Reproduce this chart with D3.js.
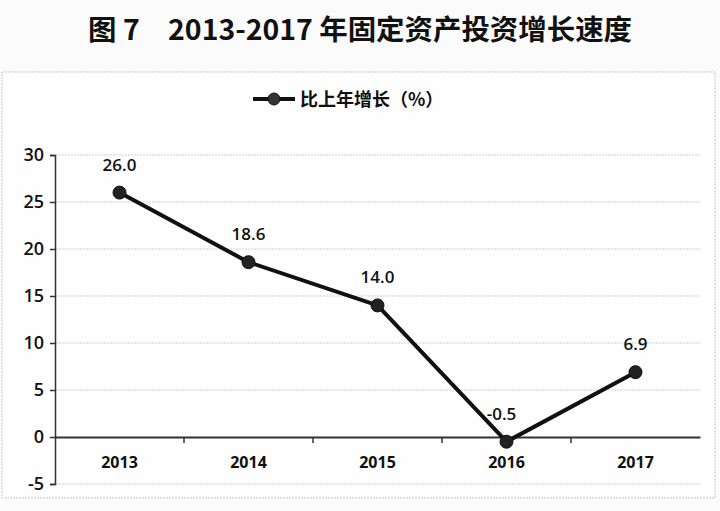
<!DOCTYPE html>
<html><head><meta charset="utf-8">
<script src="https://cdn.jsdelivr.net/npm/d3@7"></script>
<style>body{margin:0;background:#fff;}svg{display:block;}</style>
</head><body>
<svg id="c" width="720" height="511"></svg>
<script>
const title = "图 7　2013-2017 年固定资产投资增长速度";
const seriesName = "比上年增长（%）";
const years = ["2013","2014","2015","2016","2017"];
const growth = [26.0, 18.6, 14.0, -0.5, 6.9];
const yTicks = [-5, 0, 5, 10, 15, 20, 25, 30];

const svg = d3.select("#c");
const W = 720, H = 511;
const hy = s => s.replace("\u2212", "-");
svg.append("rect").attr("width", W).attr("height", H).attr("fill", "#fbfbfb");

svg.append("rect").attr("x", 2).attr("y", 72).attr("width", 713).attr("height", 426)
  .attr("fill", "#fefefe").attr("stroke", "#c8c8c8").attr("stroke-dasharray", "2,1");

svg.append("text").attr("x", 360).attr("y", 40).attr("text-anchor", "middle")
  .attr("font-family", "Noto Sans CJK SC").attr("font-weight", "bold").attr("font-size", 28)
  .attr("textLength", 544).attr("lengthAdjust", "spacingAndGlyphs")
  .attr("fill", "#111").text(title);

const x = d3.scaleBand().domain(years).range([55, 700]);
const y = d3.scaleLinear().domain([-5, 30]).range([484, 155]);

svg.append("g").selectAll("line").data(yTicks.filter(t => t !== 0)).join("line")
  .attr("x1", 56).attr("x2", 700).attr("y1", d => y(d)).attr("y2", d => y(d))
  .attr("stroke", "#cfcfcf").attr("stroke-width", 1).attr("stroke-dasharray", "2,1");

const yAxis = d3.axisLeft(y).tickValues(yTicks).tickSize(5).tickPadding(6).tickFormat(d => hy(d3.format("d")(d)));
const gy = svg.append("g").attr("transform", "translate(55,0)").call(yAxis);
gy.select(".domain").attr("stroke", "#333").attr("stroke-width", 1.5);
gy.selectAll(".tick line").attr("stroke", "#333").attr("stroke-width", 1.5);
gy.selectAll("text").attr("font-family", "Open Sans").attr("font-weight", 600).attr("font-size", 18).attr("fill", "#111");

const xAxis = d3.axisBottom(x).tickSize(0).tickPadding(20);
const gx = svg.append("g").attr("transform", `translate(0,${y(0)})`).call(xAxis);
gx.select(".domain").attr("stroke", "#333").attr("stroke-width", 2);
gx.selectAll("text").attr("font-family", "Open Sans").attr("font-weight", "bold").attr("font-size", 16).attr("fill", "#111");
svg.append("g").selectAll("line").data(years.slice(1)).join("line")
  .attr("x1", d => x(d)).attr("x2", d => x(d)).attr("y1", y(0)).attr("y2", y(0) + 6)
  .attr("stroke", "#333").attr("stroke-width", 1.5);

const pts = years.map((yr, i) => ({yr, v: growth[i]}));
const line = d3.line().x(d => x(d.yr) + x.bandwidth() / 2).y(d => y(d.v));
svg.append("path").datum(pts).attr("d", line).attr("fill", "none")
  .attr("stroke", "#111").attr("stroke-width", 4).attr("stroke-linejoin", "round");
svg.append("g").selectAll("circle").data(pts).join("circle")
  .attr("cx", d => x(d.yr) + x.bandwidth() / 2).attr("cy", d => y(d.v)).attr("r", 6.5)
  .attr("fill", "#222").attr("stroke", "#111").attr("stroke-width", 1);
svg.append("g").selectAll("text").data(pts).join("text")
  .attr("x", d => x(d.yr) + x.bandwidth() / 2 + (d.v < 0 ? -5 : 0))
  .attr("y", d => y(d.v) - 22)
  .attr("text-anchor", "middle").attr("font-family", "Open Sans").attr("font-weight", 600)
  .attr("font-size", 17).attr("fill", "#111").text(d => hy(d3.format(".1f")(d.v)));

const lg = svg.append("g");
lg.append("line").attr("x1", 253).attr("x2", 295).attr("y1", 99).attr("y2", 99)
  .attr("stroke", "#111").attr("stroke-width", 4);
lg.append("circle").attr("cx", 274).attr("cy", 99).attr("r", 6).attr("fill", "#333").attr("stroke", "#111");
lg.append("text").attr("x", 300).attr("y", 106).attr("font-family", "Noto Sans CJK SC")
  .attr("font-weight", "bold").attr("font-size", 18).attr("fill", "#111").text(seriesName);
</script>
</body></html>
